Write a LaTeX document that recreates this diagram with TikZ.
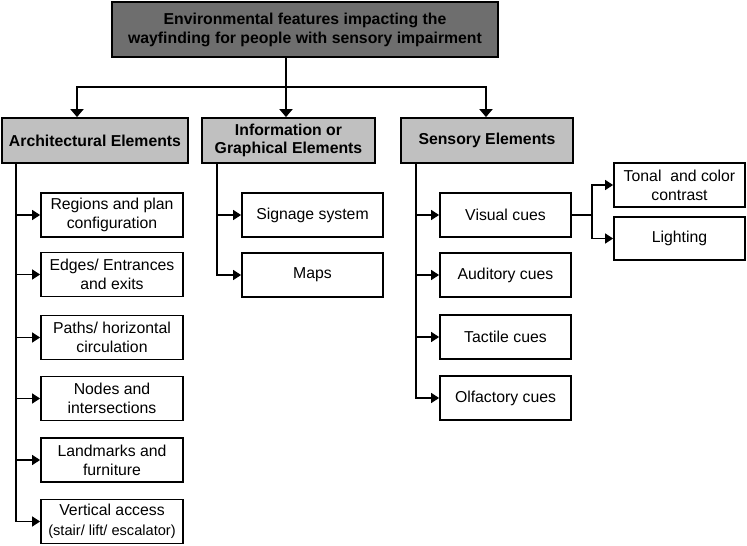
\documentclass[tikz,border=0pt]{standalone}
\usepackage{fontspec}
\setmainfont{Liberation Sans}
\usetikzlibrary{arrows.meta,calc}
\definecolor{topgray}{RGB}{110,110,110}
\definecolor{headgray}{RGB}{192,192,192}
\begin{document}
\begin{tikzpicture}[x=1pt,y=-1pt,
  box/.style={draw=black,line width=1.8pt,fill=white,inner sep=0pt,align=center,
    font=\fontsize{15.8}{19}\selectfont},
  topbox/.style={box,fill=topgray,font=\bfseries\fontsize{15.8}{19}\selectfont},
  headbox/.style={box,fill=headgray,font=\bfseries\fontsize{15.8}{18.5}\selectfont},
  conn/.style={line width=1.4pt,draw=black},
  arr/.style={conn,-{Triangle[length=8pt,width=10pt]}},
  mainline/.style={line width=2.6pt,draw=black},
  mainarr/.style={mainline,-{Triangle[length=8pt,width=13pt]}}
]
\useasboundingbox (0,0) rectangle (747,546);

% top
\node[topbox,minimum width=386pt,minimum height=55pt] (top) at (305,29.5)
  {Environmental features impacting the\\wayfinding for people with sensory impairment};

% headers
\node[headbox,minimum width=186pt,minimum height=45pt] (arch) at (95,140.5) {Architectural Elements};
\node[headbox,minimum width=173pt,minimum height=45pt] (info) at (288.5,140.5) {Information or\\Graphical Elements};
\node[headbox,minimum width=172pt,minimum height=45pt] (sens) at (487,140.5) {Sensory Elements};

% architectural children
\node[box,minimum width=142pt,minimum height=44pt] (a1) at (112,215) {Regions and plan\\configuration};
\node[box,minimum width=142pt,minimum height=44pt] (a2) at (112,274.5) {Edges/ Entrances\\and exits};
\node[box,minimum width=142pt,minimum height=44pt] (a3) at (112,337.5) {Paths/ horizontal\\circulation};
\node[box,minimum width=142pt,minimum height=44pt] (a4) at (112,398.5) {Nodes and\\intersections};
\node[box,minimum width=142pt,minimum height=44pt] (a5) at (112,460) {Landmarks and\\furniture};
\node[box,minimum width=142pt,minimum height=44pt,font=\fontsize{15.8}{19.5}\selectfont] (a6) at (112,521.5)
  {Vertical access\\{\fontsize{14.6}{17}\selectfont (stair/ lift/ escalator)}};

% information children
\node[box,minimum width=141pt,minimum height=44pt] (i1) at (312.5,215) {Signage system};
\node[box,minimum width=141pt,minimum height=44pt] (i2) at (312.5,275) {Maps};

% sensory children
\node[box,minimum width=131pt,minimum height=44pt] (s1) at (505.5,215) {Visual cues};
\node[box,minimum width=131pt,minimum height=44pt] (s2) at (505.5,275) {Auditory cues};
\node[box,minimum width=131pt,minimum height=44pt] (s3) at (505.5,337) {Tactile cues};
\node[box,minimum width=131pt,minimum height=44pt] (s4) at (505.5,398) {Olfactory cues};

% visual children
\node[box,minimum width=131pt,minimum height=44pt] (v1) at (679.5,185) {Tonal\ \ and color\\contrast};
\node[box,minimum width=131pt,minimum height=43pt] (v2) at (679.5,238.5) {Lighting};

% top connectors
\coordinate (hub) at (286,87);
\coordinate (hl) at (77,87);
\coordinate (hr) at (486,87);
\draw[mainline] (top.south -| hub) -- (hub);
\draw[mainline,line cap=rect] (hl) -- (hr);
\draw[mainarr] (hl) -- ($(arch.north)+(-18,0)$);
\draw[mainarr] (hub) -- (hub |- info.north);
\draw[mainarr] (hr) -- (hr |- sens.north);

% architectural trunk
\coordinate (at) at ($(arch.south west)+(15,0)$);
\foreach \n in {a1,a2,a3,a4,a5,a6} \draw[arr] (at) |- (\n.west);

% information trunk
\coordinate (it) at ($(info.south west)+(16,0)$);
\foreach \n in {i1,i2} \draw[arr] (it) |- (\n.west);

% sensory trunk
\coordinate (st) at ($(sens.south west)+(16,0)$);
\foreach \n in {s1,s2,s3,s4} \draw[arr] (st) |- (\n.west);

% visual branch
\coordinate (vb) at (592,215);
\draw[conn] (s1.east) -- (vb);
\draw[arr] (vb) |- (v1.west);
\draw[arr] (vb) |- (v2.west);
\end{tikzpicture}
\end{document}
